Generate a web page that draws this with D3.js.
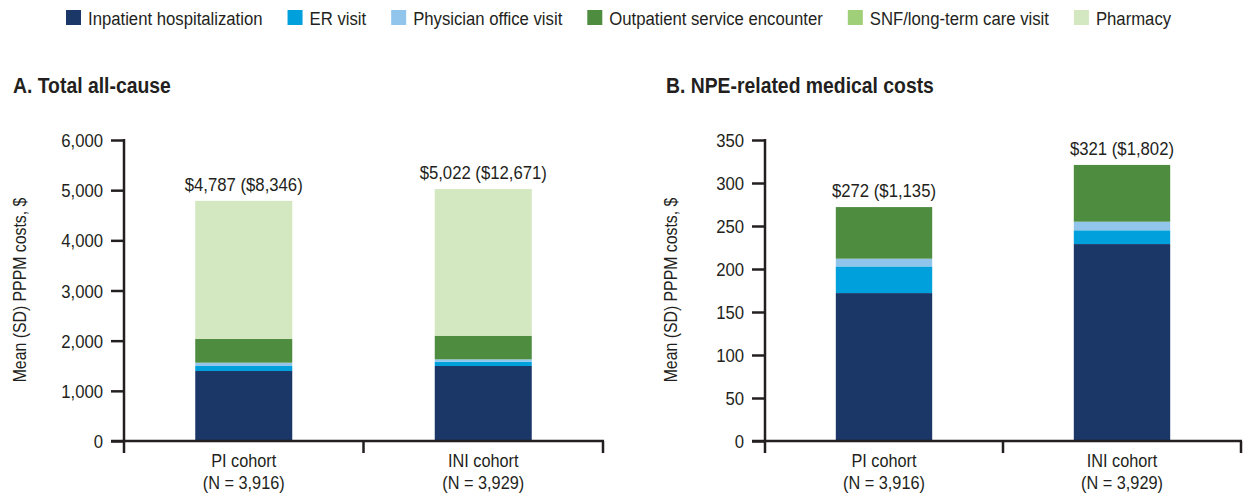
<!DOCTYPE html>
<html>
<head>
<meta charset="utf-8">
<script src="https://cdn.jsdelivr.net/npm/d3@7"></script>
<style>
  html, body { margin: 0; padding: 0; background: #fff; }
  svg { display: block; }
  text { font-family: "Liberation Sans", Arial, sans-serif; fill: #231f20; }
</style>
</head>
<body>
<svg id="chart" width="1247" height="497"></svg>
<script>
// ---------------- DATA ----------------
const categories = ["PI cohort", "INI cohort"];
const categoryN = ["(N = 3,916)", "(N = 3,929)"];
const seriesNames = ["Inpatient hospitalization", "ER visit", "Physician office visit",
  "Outpatient service encounter", "SNF/long-term care visit", "Pharmacy"];

// Panel A: Total all-cause (mean PPPM costs, $)
const allCauseInpatient  = [1395, 1495];
const allCauseER         = [100, 86];
const allCausePhysician  = [66, 47];
const allCauseOutpatient = [472, 471];
const allCauseSNF        = [0, 0];
const allCausePharmacy   = [2754, 2923];
const allCauseLabels     = ["$4,787 ($8,346)", "$5,022 ($12,671)"];
const allCauseTicks      = [0, 1000, 2000, 3000, 4000, 5000, 6000];

// Panel B: NPE-related medical costs
const npeInpatient  = [172, 229];
const npeER         = [31, 16];
const npePhysician  = [9, 10];
const npeOutpatient = [60, 66];
const npeSNF        = [0, 0];
const npePharmacy   = [0, 0];
const npeLabels     = ["$272 ($1,135)", "$321 ($1,802)"];
const npeTicks      = [0, 50, 100, 150, 200, 250, 300, 350];

const panelTitles = ["A. Total all-cause", "B. NPE-related medical costs"];
const yAxisTitle = "Mean (SD) PPPM costs, $";

// ---------------- STYLE ----------------
const colors = ["#1b3768", "#00a0dc", "#92c5ec", "#4e8c3f", "#9fcf78", "#d3e8c0"];
const SX = 0.88;      // horizontal condensing of the sans font
const ink = "#231f20";

const svg = d3.select("#chart");

function txt(g, x, y, str, size, anchor, weight, rot) {
  return g.append("text")
    .attr("transform", `translate(${x},${y})${rot ? " rotate(" + rot + ")" : ""} scale(${SX},1)`)
    .attr("text-anchor", anchor || "start")
    .attr("font-size", size)
    .attr("font-weight", weight || "normal")
    .text(str);
}

// ---------------- LEGEND ----------------
const legend = svg.append("g");
let lx = 66;
seriesNames.forEach((name, i) => {
  legend.append("rect").attr("x", lx).attr("y", 10).attr("width", 15).attr("height", 15)
    .attr("fill", colors[i]);
  const t = txt(legend, lx + 22, 25, name, 19, "start");
  const w = t.node().getComputedTextLength() * SX;
  lx += 22 + w + 25;
});

// ---------------- PANELS ----------------
function drawPanel(cfg) {
  const g = svg.append("g");
  const series = cfg.series;
  const y = d3.scaleLinear().domain([0, d3.max(cfg.ticks)]).range([441, 140]);
  const x = d3.scaleBand().domain(categories).range([cfg.x0, cfg.x1]).padding(0);
  const barW = x.bandwidth() * 0.405;

  // stacked data
  const rows = categories.map((c, j) => {
    const o = { cat: c };
    series.forEach((s, i) => o[seriesNames[i]] = s[j]);
    return o;
  });
  const stack = d3.stack().keys(seriesNames)(rows);

  g.selectAll("g.layer").data(stack).join("g")
    .attr("class", "layer")
    .attr("fill", (d, i) => colors[i])
    .selectAll("rect").data(d => d).join("rect")
    .attr("x", d => x(d.data.cat) + (x.bandwidth() - barW) / 2)
    .attr("width", barW)
    .attr("y", d => y(d[1]))
    .attr("height", d => Math.max(0, y(d[0]) - y(d[1])));

  // value labels
  categories.forEach((c, j) => {
    const total = d3.sum(series, s => s[j]);
    txt(g, x(c) + x.bandwidth() / 2, y(total) - 10, cfg.labels[j], 19, "middle");
  });

  // y axis
  const ya = g.append("g").attr("transform", `translate(${cfg.x0},0)`)
    .call(d3.axisLeft(y).tickValues(cfg.ticks).tickFormat(d3.format(",")).tickSize(13).tickPadding(8));
  ya.select(".domain").remove();
  ya.selectAll(".tick line").attr("stroke", ink).attr("stroke-width", 2.5);
  ya.selectAll(".tick text")
    .attr("x", null).attr("dy", null)
    .attr("transform", `translate(-21,6.5) scale(${SX},1)`)
    .attr("font-size", 19).attr("fill", ink)
    .attr("font-family", "Liberation Sans, Arial, sans-serif");
  g.append("line").attr("x1", cfg.x0).attr("x2", cfg.x0)
    .attr("y1", y(d3.max(cfg.ticks)) - 1).attr("y2", y(0) + 12)
    .attr("stroke", ink).attr("stroke-width", 2.5);

  // x axis
  g.append("line").attr("x1", cfg.x0 - 13).attr("x2", cfg.x1 + 1)
    .attr("y1", y(0)).attr("y2", y(0)).attr("stroke", ink).attr("stroke-width", 2.5);
  const bounds = categories.map(c => x(c) + x.step());
  g.selectAll("line.xt").data(bounds).join("line").attr("class", "xt")
    .attr("x1", d => d).attr("x2", d => d)
    .attr("y1", y(0)).attr("y2", y(0) + 12)
    .attr("stroke", ink).attr("stroke-width", 2.5);

  // category labels
  categories.forEach((c, j) => {
    const cx = x(c) + x.bandwidth() / 2;
    txt(g, cx, 467, c, 18.5, "middle");
    txt(g, cx, 489, categoryN[j], 18.5, "middle");
  });

  // y title
  txt(g, cfg.yTitleX, 290, yAxisTitle, 18, "middle", "normal", -90);

  // panel title
  txt(g, cfg.titleX, 93, cfg.title, 22, "start", "bold");
}

drawPanel({
  series: [allCauseInpatient, allCauseER, allCausePhysician, allCauseOutpatient, allCauseSNF, allCausePharmacy],
  labels: allCauseLabels, ticks: allCauseTicks,
  x0: 124, x1: 603, yTitleX: 26, titleX: 13, title: panelTitles[0]
});
drawPanel({
  series: [npeInpatient, npeER, npePhysician, npeOutpatient, npeSNF, npePharmacy],
  labels: npeLabels, ticks: npeTicks,
  x0: 765, x1: 1241, yTitleX: 677, titleX: 666, title: panelTitles[1]
});
</script>
</body>
</html>
